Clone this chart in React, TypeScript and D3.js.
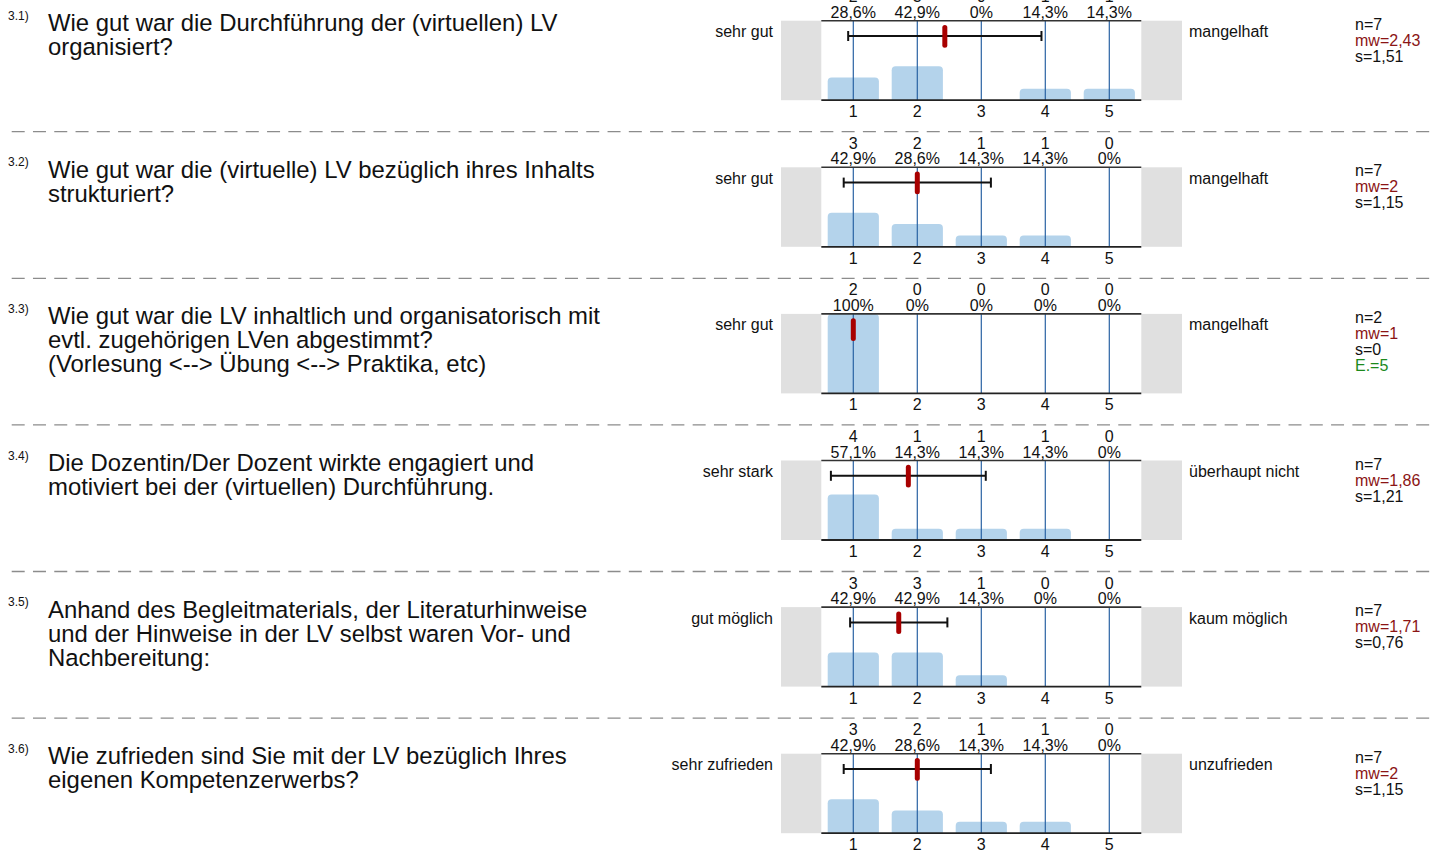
import React from "react";
import * as d3 from "d3";

const questionIds = ["3.1)", "3.2)", "3.3)", "3.4)", "3.5)", "3.6)"];
const questionLines = [
  ["Wie gut war die Durchführung der (virtuellen) LV", "organisiert?"],
  ["Wie gut war die (virtuelle) LV bezüglich ihres Inhalts", "strukturiert?"],
  ["Wie gut war die LV inhaltlich und organisatorisch mit", "evtl. zugehörigen LVen abgestimmt?", "(Vorlesung <--> Übung <--> Praktika, etc)"],
  ["Die Dozentin/Der Dozent wirkte engagiert und", "motiviert bei der (virtuellen) Durchführung."],
  ["Anhand des Begleitmaterials, der Literaturhinweise", "und der Hinweise in der LV selbst waren Vor- und", "Nachbereitung:"],
  ["Wie zufrieden sind Sie mit der LV bezüglich Ihres", "eigenen Kompetenzerwerbs?"],
];
const leftLabels = ["sehr gut", "sehr gut", "sehr gut", "sehr stark", "gut möglich", "sehr zufrieden"];
const rightLabels = ["mangelhaft", "mangelhaft", "mangelhaft", "überhaupt nicht", "kaum möglich", "unzufrieden"];
const counts = [
  [2, 3, 0, 1, 1],
  [3, 2, 1, 1, 0],
  [2, 0, 0, 0, 0],
  [4, 1, 1, 1, 0],
  [3, 3, 1, 0, 0],
  [3, 2, 1, 1, 0],
];
const nValues = [7, 7, 2, 7, 7, 7];
const means = [2.43, 2, 1, 1.86, 1.71, 2];
const stds = [1.51, 1.15, 0, 1.21, 0.76, 1.15];
const abstentions: (number | null)[] = [null, null, 5, null, null, null];
const scaleTicks = [1, 2, 3, 4, 5];

const FONT = "'Liberation Sans', Arial, sans-serif";
const BLOCK_TOP0 = 20.7;
const BLOCK_PITCH = 146.6;
const PLOT_H = 79.5;

const fmtNum = (v: number) => {
  const s = (Math.round(v * 100) / 100).toString();
  return s.replace(".", ",");
};
const fmtPct = (c: number, n: number) => {
  const p = (c / n) * 100;
  const r = Math.round(p * 10) / 10;
  return (Number.isInteger(r) ? r.toString() : r.toFixed(1).replace(".", ",")) + "%";
};

function topRoundedBar(x: number, y: number, w: number, h: number, r: number) {
  const rr = Math.min(r, h, w / 2);
  const p = d3.path();
  p.moveTo(x, y + h);
  p.lineTo(x, y + rr);
  p.quadraticCurveTo(x, y, x + rr, y);
  p.lineTo(x + w - rr, y);
  p.quadraticCurveTo(x + w, y, x + w, y + rr);
  p.lineTo(x + w, y + h);
  p.closePath();
  return p.toString();
}

function Block({ i }: { i: number }) {
  const top = BLOCK_TOP0 + i * BLOCK_PITCH;
  const bottom = top + PLOT_H;
  const x = d3.scaleLinear().domain([0.5, 5.5]).range([821.3, 1141.3]);
  const h = d3.scaleLinear().domain([0, 1]).range([0, PLOT_H]);
  const step = x(2) - x(1);
  const bw = step * 0.8;
  const n = nValues[i];
  const m = means[i];
  const s = stds[i];
  const ey = top + 15.3;
  return (
    <g>
      <text x={8} y={top - 1} fontSize={12} fontFamily={FONT} fill="#111">{questionIds[i]}</text>
      <text fontFamily={FONT} fontSize={23.9} fill="#111">
        {questionLines[i].map((l, k) => (
          <tspan key={k} x={48} y={top + 10.5 + k * 24}>{l}</tspan>
        ))}
      </text>
      <rect x={781} y={top} width={x(0.5) - 781} height={PLOT_H} fill="#e0e0e0" />
      <rect x={x(5.5)} y={top} width={1182 - x(5.5)} height={PLOT_H} fill="#e0e0e0" />
      {counts[i].map((c, k) => {
        const bh = h(c / n);
        return c > 0 ? (
          <path key={k} d={topRoundedBar(x(scaleTicks[k]) - bw / 2, bottom - bh, bw, bh, 4)} fill="#b4d3eb" />
        ) : null;
      })}
      {scaleTicks.map((t) => (
        <line key={t} x1={x(t)} x2={x(t)} y1={top} y2={bottom} stroke="#2a62a3" strokeWidth={1.2} />
      ))}
      <line x1={x(0.5)} x2={x(5.5)} y1={top} y2={top} stroke="#333" strokeWidth={1.6} />
      <line x1={x(0.5)} x2={x(5.5)} y1={bottom} y2={bottom} stroke="#222" strokeWidth={1.8} />
      {s > 0 && (
        <g stroke="#111" strokeWidth={2}>
          <line x1={x(m - s)} x2={x(m + s)} y1={ey} y2={ey} />
          <line x1={x(m - s)} x2={x(m - s)} y1={ey - 5} y2={ey + 5} />
          <line x1={x(m + s)} x2={x(m + s)} y1={ey - 5} y2={ey + 5} />
        </g>
      )}
      <rect x={x(m) - 2.5} y={top + 4.3} width={5} height={22.7} rx={2.5} fill="#a80000" />
      {counts[i].map((c, k) => (
        <g key={k} fontFamily={FONT} fontSize={16} fill="#111" textAnchor="middle">
          <text x={x(scaleTicks[k])} y={top - 18.6}>{c}</text>
          <text x={x(scaleTicks[k])} y={top - 3}>{fmtPct(c, n)}</text>
        </g>
      ))}
      {scaleTicks.map((t) => (
        <text key={t} x={x(t)} y={bottom + 17} textAnchor="middle" fontFamily={FONT} fontSize={16} fill="#111">{t}</text>
      ))}
      <text x={773} y={top + 16.5} textAnchor="end" fontFamily={FONT} fontSize={16} fill="#111">{leftLabels[i]}</text>
      <text x={1189} y={top + 16.5} fontFamily={FONT} fontSize={16} fill="#111">{rightLabels[i]}</text>
      <g fontFamily={FONT} fontSize={16}>
        <text x={1355} y={top + 9} fill="#111">{`n=${n}`}</text>
        <text x={1355} y={top + 25} fill="#8b1414">{`mw=${fmtNum(m)}`}</text>
        <text x={1355} y={top + 41} fill="#111">{`s=${fmtNum(s)}`}</text>
        {abstentions[i] !== null && (
          <text x={1355} y={top + 57} fill="#1c8a1c">{`E.=${abstentions[i]}`}</text>
        )}
      </g>
      {i < 5 && (
        <line x1={11.7} x2={1430} y1={top + 111} y2={top + 111} stroke="#8c8c8c" strokeWidth={1.3} strokeDasharray="13,8.28" />
      )}
    </g>
  );
}

export default function App() {
  return (
    <svg width={1436} height={850} style={{ position: "absolute", left: 0, top: 0, background: "#fff" }}>
      <rect width={1436} height={850} fill="#fff" />
      {questionIds.map((_, i) => (
        <Block key={i} i={i} />
      ))}
    </svg>
  );
}
